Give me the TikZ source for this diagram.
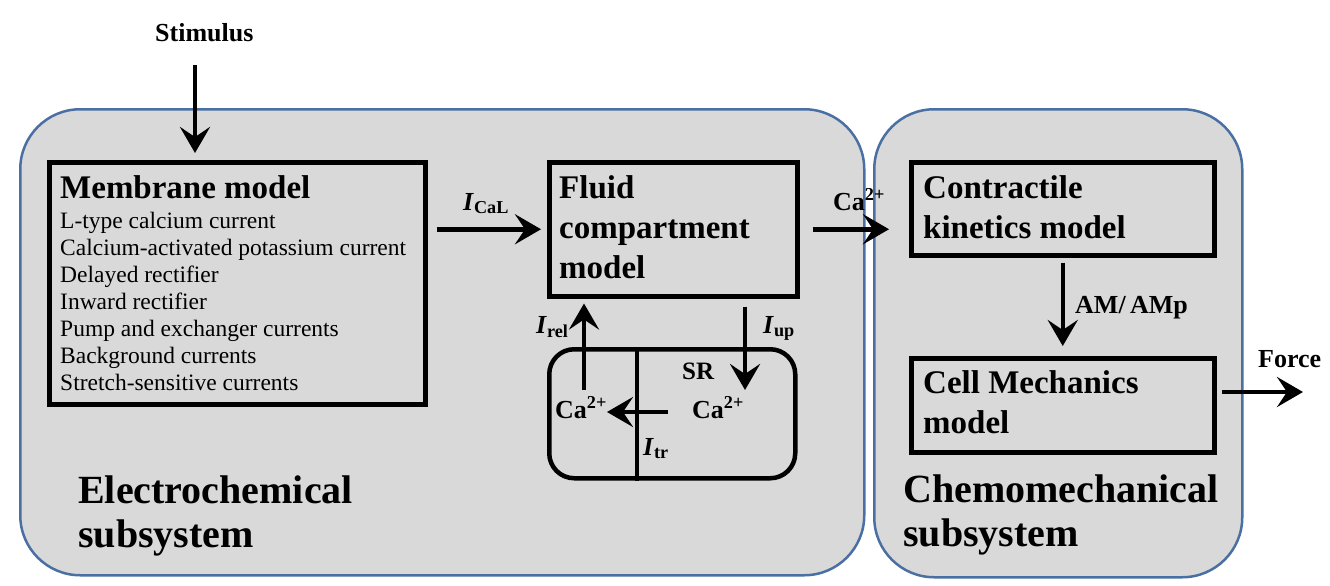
\documentclass[tikz,border=0pt]{standalone}
\usepackage{fontspec}
\setmainfont{Liberation Serif}
\usetikzlibrary{arrows.meta}
\definecolor{subblue}{RGB}{74,111,163}
\definecolor{subgray}{RGB}{217,217,217}
\begin{document}
\begin{tikzpicture}[x=1pt,y=-1pt,
  subsys/.style={draw=subblue, fill=subgray, line width=2.5pt, rounded corners=60pt, anchor=north west, inner sep=0pt},
  mbox/.style={draw=black, line width=4.5pt, anchor=north west, inner sep=0pt},
  arr/.style={line width=4.5pt, -{Stealth[length=26pt,width=30pt,inset=10pt]}},
  ttl/.style={anchor=base west, align=left, inner sep=0pt, font=\bfseries\fontsize{33}{40}\selectfont},
  lbl/.style={anchor=base west, inner sep=0pt, font=\bfseries\fontsize{26}{30}\selectfont},
  big/.style={anchor=base west, align=left, inner sep=0pt, font=\bfseries\fontsize{40}{44}\selectfont}]
\useasboundingbox (0,0) rectangle (1330,586);
% subsystems
\node[subsys, minimum width=844pt, minimum height=466pt] (elec) at (19,108) {};
\node[subsys, minimum width=368pt, minimum height=468pt] (chem) at (873,108) {};
% boxes
\node[mbox, minimum width=376pt, minimum height=242pt] (mem) at (47,160) {};
\node[mbox, minimum width=248pt, minimum height=134pt] (fluid) at (547,160) {};
\node[mbox, minimum width=246pt, minimum height=129pt, rounded corners=25pt] (sr) at (547,347) {};
\node[mbox, minimum width=303pt, minimum height=93pt] (contract) at (909,160) {};
\node[mbox, minimum width=303pt, minimum height=94pt] (cell) at (909,356) {};
% texts (base anchor = last line)
\node[lbl] (stim) at (155,42) {Stimulus};
\node[anchor=base west, inner sep=0pt, font=\bfseries\fontsize{33}{36}\selectfont] (memt) at (60,198) {Membrane model};
\node[anchor=base west, align=left, inner sep=0pt, font=\fontsize{23.5}{27}\selectfont] (items) at (60,390)
  {L-type calcium current\\Calcium-activated potassium current\\Delayed rectifier\\Inward rectifier\\Pump and exchanger currents\\Background currents\\Stretch-sensitive currents};
\node[ttl] (fluidt) at (559,278) {Fluid\\compartment\\model};
\node[ttl] (contt) at (923,238) {Contractile\\kinetics model};
\node[ttl] (cellt) at (923,433) {Cell Mechanics\\model};
\node[big] (elect) at (78,547) {Electrochemical\\subsystem};
\node[big] (chemt) at (903,546) {Chemomechanical\\subsystem};
\node[lbl] (ical) at (463,210) {\textit{I}\textsubscript{CaL}};
\node[lbl] (ca1) at (833,210) {Ca\textsuperscript{2+}};
\node[lbl] (am) at (1075,313) {AM/\,AMp};
\node[lbl] (force) at (1258,367) {Force};
\node[lbl, font=\bfseries\fontsize{25}{30}\selectfont] (srt) at (682,379) {SR};
\node[lbl] (caL) at (555,418) {Ca\textsuperscript{2+}};
\node[lbl] (caR) at (692,418) {Ca\textsuperscript{2+}};
\node[lbl] (irel) at (536,333) {\textit{I}\textsubscript{rel}};
\node[lbl] (iup) at (763,333) {\textit{I}\textsubscript{up}};
\node[lbl] (itr) at (643,455) {\textit{I}\textsubscript{tr}};
% connectors
\coordinate (stimtop) at (195,65);
\draw[arr, shorten >=7pt] (stimtop) -- (stimtop |- mem.north);
\draw[arr, shorten <=9pt, shorten >=6pt] (mem.east |- fluid.west) -- (fluid.west);
\draw[arr, shorten <=13pt, shorten >=20pt] (fluid.east) -- (fluid.east -| contract.west);
\draw[arr, shorten <=5pt, shorten >=10pt] (contract.south) -- (cell.north);
\coordinate (fstart) at (1222,392);
\coordinate (fend) at (1303,392);
\draw[arr] (fstart) -- (fend);
\coordinate (relbot) at (584,390);
\draw[arr, shorten >=5pt] (relbot) -- (relbot |- fluid.south);
\coordinate (uptip) at (745,390);
\draw[arr, shorten <=8pt] (uptip |- fluid.south) -- (uptip);
\coordinate (trs) at (668,412);
\coordinate (tre) at (607,412);
\draw[arr] (trs) -- (tre);
\coordinate (divx) at (637,0);
\draw[line width=4.5pt] (divx |- sr.north) -- (divx |- sr.south);
\end{tikzpicture}
\end{document}
